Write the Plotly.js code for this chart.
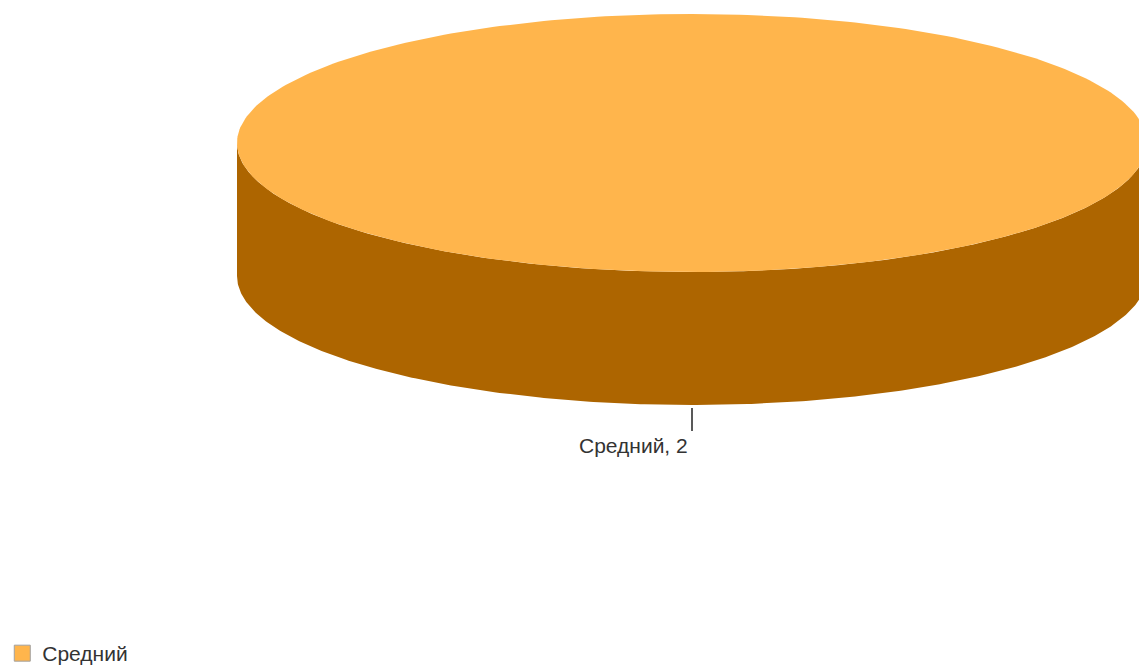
<!DOCTYPE html>
<html>
<head>
<meta charset="utf-8">
<script src="https://cdn.plot.ly/plotly-3.0.1.min.js"></script>
<style>html,body{margin:0;padding:0;background:#fff;}#chart{width:1139px;height:668px;}</style>
</head>
<body>
<div id="chart"></div>
<script>
// ---- data ----
const labels = ["Средний"];
const values = [2];

// ---- styling / geometry (pixel-like coordinates on hidden axes) ----
const topColors = ["#FFB54C"];
const sideColors = ["#AD6500"];
const W = 1139, H = 668;
const cx = 692, cy = 143, rx = 455, ry = 129, depth = 133;
const fontFam = "Liberation Sans, Arial, sans-serif";

const total = values.reduce((s, v) => s + v, 0);
const traces = [];
const annotations = [];
const N = 360;
let start = -Math.PI / 2; // start at top, clockwise (screen y down)

function pt(t, dy) { return [cx + rx * Math.cos(t), cy + dy + ry * Math.sin(t)]; }

values.forEach((v, i) => {
  const span = (v / total) * 2 * Math.PI;
  const end = start + span;
  // side (front visible part: sin(t) >= 0 => t in [0, PI] mod 2PI)
  const ranges = [];
  for (let k = -1; k <= 1; k++) {
    const a = Math.max(start, 2 * Math.PI * k), b = Math.min(end, Math.PI + 2 * Math.PI * k);
    if (b > a) ranges.push([a, b]);
  }
  ranges.forEach(([a, b]) => {
    const xs = [], ys = [];
    for (let j = 0; j <= N; j++) { const t = a + (b - a) * j / N; const p = pt(t, 0); xs.push(p[0]); ys.push(p[1]); }
    for (let j = N; j >= 0; j--) { const t = a + (b - a) * j / N; const p = pt(t, depth); xs.push(p[0]); ys.push(p[1]); }
    traces.push({type: "scatter", mode: "lines", x: xs, y: ys, fill: "toself", fillcolor: sideColors[i],
      line: {width: 0, color: sideColors[i]}, hoverinfo: "skip", showlegend: false});
  });
  // top face
  const tx = [], ty = [];
  const full = span >= 2 * Math.PI - 1e-9;
  if (!full) { tx.push(cx); ty.push(cy); }
  for (let j = 0; j <= N; j++) { const t = start + span * j / N; const p = pt(t, 0); tx.push(p[0]); ty.push(p[1]); }
  traces.push({type: "scatter", mode: "lines", x: tx, y: ty, fill: "toself", fillcolor: topColors[i],
    line: {width: 0, color: topColors[i]}, hoverinfo: "skip", showlegend: false});
  // leader line & label
  const mid = start + span / 2;
  const p0 = pt(mid, depth);
  const y0 = p0[1] + 3, y1 = p0[1] + 26;
  traces.push({type: "scatter", mode: "lines", x: [p0[0], p0[0]], y: [y0, y1],
    line: {width: 1.5, color: "#222222"}, hoverinfo: "skip", showlegend: false});
  annotations.push({x: p0[0] - 2, y: y1 + 1, xref: "x", yref: "y", text: labels[i] + ", " + values[i],
    showarrow: false, xanchor: "right", yanchor: "top", font: {family: fontFam, size: 21, color: "#333333"}});
  // legend entry
  traces.push({type: "scatter", mode: "markers", x: [null], y: [null], name: labels[i],
    marker: {symbol: "square", size: 22, color: topColors[i], line: {color: "#a0a0a0", width: 1}}});
  start = end;
});

const layout = {
  width: W, height: H,
  margin: {l: 0, r: 0, t: 0, b: 0, autoexpand: false},
  paper_bgcolor: "#ffffff", plot_bgcolor: "#ffffff",
  xaxis: {range: [0, W], visible: false, fixedrange: true},
  yaxis: {range: [H, 0], visible: false, fixedrange: true},
  showlegend: true,
  legend: {x: 0.002, y: -0.009, xanchor: "left", yanchor: "bottom", orientation: "h", itemsizing: "trace",
    font: {family: fontFam, size: 21, color: "#333333"}, bgcolor: "rgba(0,0,0,0)"},
  annotations: annotations
};
Plotly.newPlot("chart", traces, layout, {displayModeBar: false, staticPlot: true});
</script>
</body>
</html>
